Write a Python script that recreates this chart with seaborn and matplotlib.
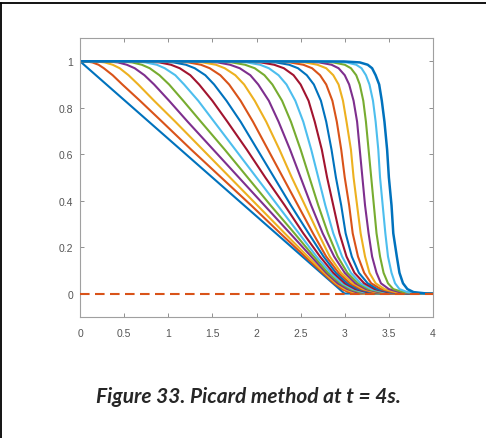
import pandas as pd
import matplotlib
matplotlib.use("Agg")
import matplotlib.pyplot as plt
from matplotlib.lines import Line2D
import seaborn as sns

# y levels shared by every profile; each profile lists its x position at these levels
Y_LEVELS = [0.999, 0.995, 0.985, 0.97, 0.94, 0.9, 0.83, 0.74, 0.62, 0.5, 0.38, 0.26,
            0.16, 0.09, 0.045, 0.02, 0.007, 0.001]

X_T00 = [0.003, 0.015, 0.045, 0.09, 0.18, 0.30, 0.51, 0.78, 1.14, 1.50, 1.86, 2.22, 2.52, 2.73, 2.865, 2.94, 2.979, 2.997]
X_T01 = [0.07, 0.14, 0.21, 0.27, 0.37, 0.48, 0.68, 0.93, 1.26, 1.60, 1.94, 2.27, 2.55, 2.75, 2.88, 2.97, 3.04, 3.14]
X_T02 = [0.18, 0.28, 0.37, 0.45, 0.55, 0.66, 0.84, 1.08, 1.39, 1.70, 2.01, 2.32, 2.58, 2.77, 2.90, 3.00, 3.09, 3.22]
X_T03 = [0.31, 0.43, 0.53, 0.62, 0.73, 0.84, 1.01, 1.22, 1.51, 1.80, 2.09, 2.38, 2.62, 2.79, 2.92, 3.03, 3.13, 3.28]
X_T04 = [0.45, 0.59, 0.70, 0.79, 0.90, 1.01, 1.17, 1.37, 1.64, 1.90, 2.16, 2.43, 2.65, 2.81, 2.95, 3.06, 3.17, 3.34]
X_T05 = [0.60, 0.74, 0.87, 0.96, 1.08, 1.18, 1.34, 1.52, 1.76, 2.00, 2.24, 2.48, 2.68, 2.84, 2.97, 3.09, 3.21, 3.39]
X_T06 = [0.75, 0.90, 1.03, 1.13, 1.25, 1.35, 1.50, 1.67, 1.89, 2.10, 2.32, 2.53, 2.72, 2.87, 3.00, 3.12, 3.25, 3.44]
X_T07 = [0.90, 1.06, 1.20, 1.30, 1.42, 1.52, 1.66, 1.82, 2.01, 2.20, 2.39, 2.59, 2.76, 2.90, 3.03, 3.15, 3.28, 3.48]
X_T08 = [1.05, 1.23, 1.37, 1.47, 1.59, 1.69, 1.82, 1.96, 2.13, 2.30, 2.47, 2.64, 2.79, 2.93, 3.06, 3.18, 3.32, 3.52]
X_T09 = [1.21, 1.39, 1.54, 1.64, 1.76, 1.86, 1.98, 2.11, 2.26, 2.40, 2.55, 2.70, 2.83, 2.96, 3.09, 3.21, 3.35, 3.56]
X_T10 = [1.37, 1.56, 1.70, 1.81, 1.93, 2.02, 2.14, 2.25, 2.38, 2.50, 2.62, 2.75, 2.88, 3.00, 3.12, 3.24, 3.38, 3.60]
X_T11 = [1.53, 1.72, 1.87, 1.98, 2.09, 2.18, 2.29, 2.39, 2.50, 2.60, 2.70, 2.81, 2.92, 3.03, 3.15, 3.27, 3.41, 3.64]
X_T12 = [1.69, 1.89, 2.04, 2.14, 2.25, 2.34, 2.44, 2.53, 2.62, 2.70, 2.78, 2.87, 2.97, 3.07, 3.18, 3.30, 3.45, 3.68]
X_T13 = [1.85, 2.05, 2.20, 2.31, 2.42, 2.50, 2.59, 2.66, 2.74, 2.80, 2.87, 2.94, 3.02, 3.11, 3.22, 3.34, 3.48, 3.71]
X_T14 = [2.01, 2.22, 2.37, 2.47, 2.57, 2.65, 2.73, 2.79, 2.85, 2.90, 2.96, 3.01, 3.08, 3.16, 3.26, 3.37, 3.51, 3.75]
X_T15 = [2.17, 2.38, 2.53, 2.63, 2.72, 2.79, 2.86, 2.91, 2.96, 3.00, 3.05, 3.09, 3.15, 3.22, 3.30, 3.41, 3.54, 3.78]
X_T16 = [2.34, 2.55, 2.69, 2.79, 2.87, 2.93, 2.98, 3.02, 3.07, 3.10, 3.14, 3.18, 3.23, 3.28, 3.35, 3.45, 3.58, 3.82]
X_T17 = [2.50, 2.71, 2.85, 2.93, 3.00, 3.05, 3.10, 3.14, 3.17, 3.20, 3.23, 3.27, 3.31, 3.36, 3.41, 3.50, 3.62, 3.85]
X_T18 = [2.66, 2.87, 3.00, 3.07, 3.13, 3.17, 3.21, 3.24, 3.27, 3.30, 3.33, 3.36, 3.40, 3.44, 3.49, 3.55, 3.66, 3.88]
X_T19 = [2.83, 3.02, 3.13, 3.19, 3.24, 3.28, 3.32, 3.35, 3.38, 3.40, 3.43, 3.46, 3.49, 3.53, 3.57, 3.62, 3.71, 3.90]
X_T20 = [2.99, 3.17, 3.26, 3.31, 3.35, 3.39, 3.42, 3.45, 3.48, 3.50, 3.53, 3.55, 3.59, 3.62, 3.66, 3.71, 3.78, 3.93]

PROFILES = [X_T00, X_T01, X_T02, X_T03, X_T04, X_T05, X_T06, X_T07, X_T08, X_T09, X_T10,
            X_T11, X_T12, X_T13, X_T14, X_T15, X_T16, X_T17, X_T18, X_T19, X_T20]
START = (0.0, 1.0)
END = (4.0, 0.0)

ZERO_X = [0, 4]
ZERO_Y = [0, 0]
X_TICKS = [0, 0.5, 1, 1.5, 2, 2.5, 3, 3.5, 4]
X_TICKLABELS = ["0", "0.5", "1", "1.5", "2", "2.5", "3", "3.5", "4"]
Y_TICKS = [0, 0.2, 0.4, 0.6, 0.8, 1]
Y_TICKLABELS = ["0", "0.2", "0.4", "0.6", "0.8", "1"]
CAPTION = "Figure 33. Picard method at t = 4s."

MATLAB = ["#0072BD", "#D95319", "#EDB120", "#7E2F8E", "#77AC30", "#4DBEEE", "#A2142F"]
COLORS = [MATLAB[k % 7] for k in range(20)] + ["#0072BD"]

rows = []
for k, xs in enumerate(PROFILES):
    xs_full = [START[0]] + xs + [END[0]]
    ys_full = [START[1]] + Y_LEVELS + [END[1]]
    for i, (x, y) in enumerate(zip(xs_full, ys_full)):
        rows.append({"curve": k, "i": i, "x": x, "y": y})
df = pd.DataFrame(rows)

sns.set_theme(style="white")
plt.rcParams["font.family"] = ["Liberation Sans", "DejaVu Sans"]

fig = plt.figure(figsize=(4.86, 4.39), dpi=100)
ax = fig.add_axes([80 / 486, 1 - 318 / 439, 353 / 486, 279 / 439])

sns.lineplot(data=df[df.curve < 20], x="x", y="y", hue="curve", palette=COLORS[:20],
             sort=False, estimator=None, legend=False, linewidth=1.5, ax=ax)
sns.lineplot(data=df[df.curve == 20], x="x", y="y", color=COLORS[20],
             sort=False, estimator=None, legend=False, linewidth=1.8, ax=ax)
sns.lineplot(x=ZERO_X, y=ZERO_Y, color="#D95319", linewidth=1.5, ax=ax)
ax.lines[-1].set_dashes([4.6, 2.6])
ax.lines[-1].set_zorder(5)

ax.set_xlim(0, 4)
ax.set_ylim(-0.1, 1.1)
ax.set_xticks(X_TICKS)
ax.set_xticklabels(X_TICKLABELS)
ax.set_yticks(Y_TICKS)
ax.set_yticklabels(Y_TICKLABELS)
ax.set_xlabel("")
ax.set_ylabel("")
for sp in ax.spines.values():
    sp.set_visible(True)
    sp.set_color("#a0a0a0")
    sp.set_linewidth(0.8)
ax.tick_params(direction="in", length=3, width=0.7, color="#909090",
               labelsize=7.5, labelcolor="#555555", top=True, right=True,
               bottom=True, left=True)
ax.tick_params(axis="x", pad=8)
ax.tick_params(axis="y", pad=5)

fig.text(248 / 486, 1 - 397 / 439, CAPTION, ha="center", va="center",
         fontsize=15, fontweight="bold", style="italic", family=["Lato", "DejaVu Sans"])

fig.add_artist(Line2D([0.5 / 486, 0.5 / 486], [0, 1 - 4 / 439], color="black", lw=1.3))
fig.add_artist(Line2D([0, 1], [1 - 4 / 439, 1 - 4 / 439], color="black", lw=1.3))

fig.savefig("out.png", dpi=100)
